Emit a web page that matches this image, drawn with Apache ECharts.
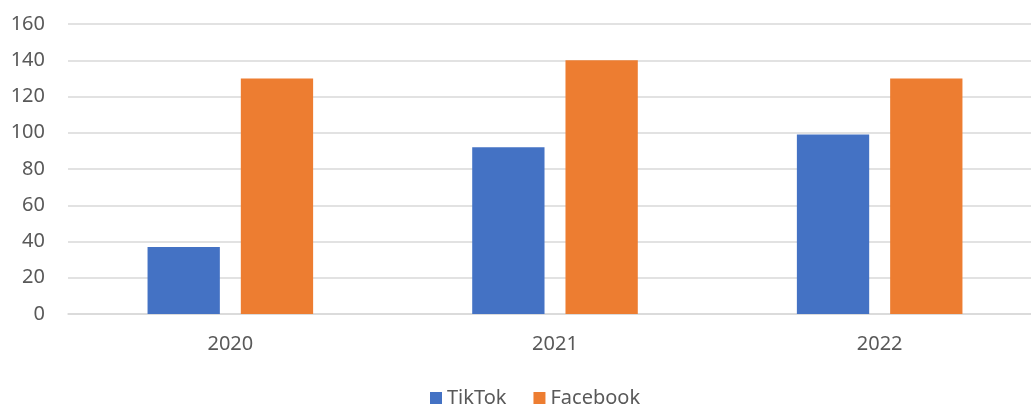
<!DOCTYPE html>
<html>
<head>
<meta charset="utf-8">
<script src="https://cdn.jsdelivr.net/npm/echarts@6/dist/echarts.min.js"></script>
<style>html,body{margin:0;padding:0;background:#fff;}#c{width:1031px;height:407px;}</style>
</head>
<body>
<div id="c"></div>
<script>
const categories = ['2020', '2021', '2022'];
const tiktok = [37, 92, 99];
const facebook = [130, 140, 130];
const seriesNames = ['TikTok', 'Facebook'];

const font = '"Noto Sans", "Open Sans", sans-serif';
const chart = echarts.init(document.getElementById('c'), null, {renderer: 'canvas'});
chart.setOption({
  animation: false,
  textStyle: {fontFamily: font},
  grid: {left: 68, width: 974, top: 24, bottom: 93, containLabel: false, outerBoundsMode: 'none'},
  legend: {
    data: seriesNames,
    left: 425, top: 383,
    itemWidth: 12, itemHeight: 12, itemGap: 27,
    icon: 'rect',
    textStyle: {fontSize: 20, color: '#595959', fontFamily: font}
  },
  xAxis: {
    type: 'category',
    data: categories,
    axisLine: {lineStyle: {color: '#d9d9d9', width: 1.5}},
    axisTick: {show: false},
    axisLabel: {fontSize: 20, color: '#595959', margin: 20, fontFamily: font}
  },
  yAxis: {
    type: 'value',
    min: 0, max: 160, interval: 20,
    axisLine: {show: false},
    axisTick: {show: false},
    splitLine: {lineStyle: {color: '#d9d9d9', width: 1.5}},
    axisLabel: {fontSize: 20, color: '#595959', margin: 23, fontFamily: font}
  },
  series: [
    {name: seriesNames[0], type: 'bar', data: tiktok, barGap: '29%', barCategoryGap: '49%',
     itemStyle: {color: '#4472C4'}},
    {name: seriesNames[1], type: 'bar', data: facebook, barGap: '29%', barCategoryGap: '49%',
     itemStyle: {color: '#ED7D31'}}
  ]
});
</script>
</body>
</html>
